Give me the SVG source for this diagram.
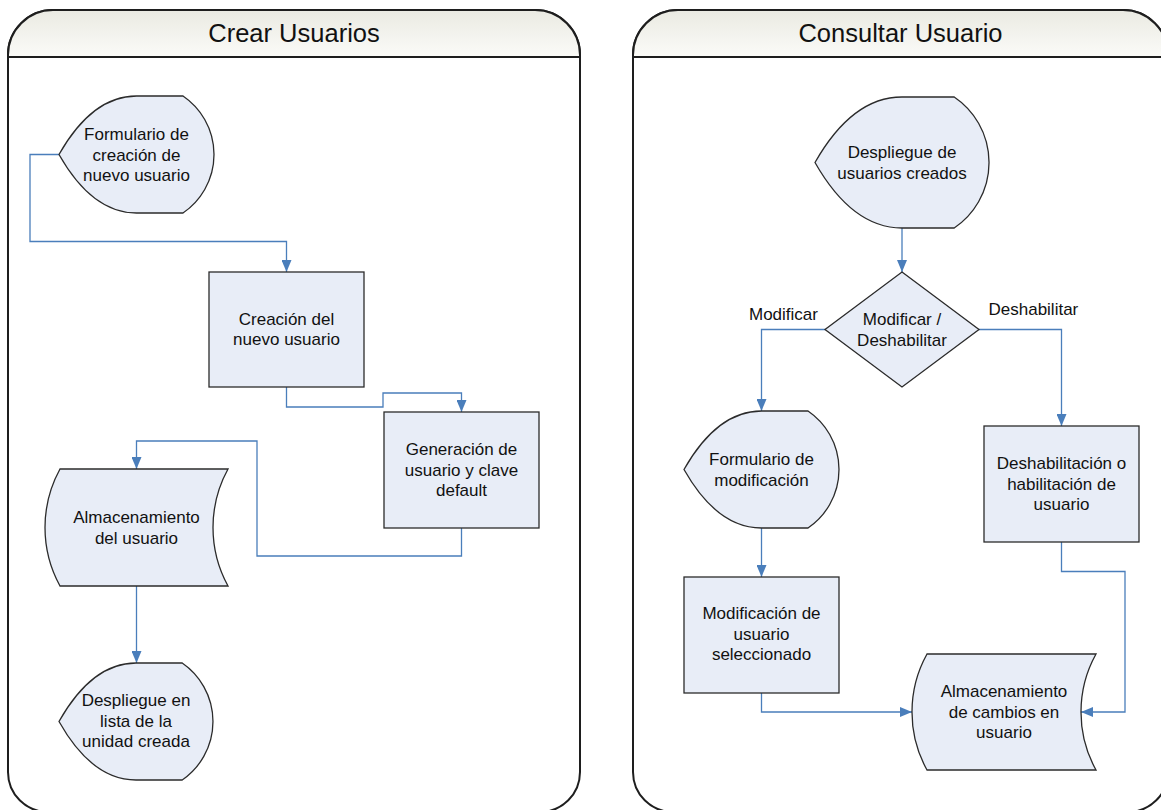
<svg xmlns="http://www.w3.org/2000/svg" width="1161" height="810" viewBox="0 0 1161 810">
<defs>
<linearGradient id="tb" x1="0" y1="0" x2="0" y2="1">
<stop offset="0" stop-color="#eaeae2"/>
<stop offset="1" stop-color="#fbfbf8"/>
</linearGradient>
<marker id="arr" viewBox="0 0 12 10" refX="12" refY="5" markerWidth="12" markerHeight="10" markerUnits="userSpaceOnUse" orient="auto">
<path d="M0,0 L12,5 L0,10 Z" fill="#4a7ebb"/>
</marker>
<style>
.panel{fill:#ffffff;stroke:#1e1e1e;stroke-width:2}
.bar{fill:url(#tb);stroke:#1e1e1e;stroke-width:2}
.title{font-family:"Liberation Sans",Arial,sans-serif;font-size:25.5px;fill:#111;text-anchor:middle}
.shape{fill:#e8edf7;stroke:#2b2b2b;stroke-width:1.3}
.t{font-family:"Liberation Sans",Arial,sans-serif;font-size:17px;fill:#111;text-anchor:middle}
.lbl{font-family:"Liberation Sans",Arial,sans-serif;font-size:17px;fill:#111}
.c{fill:none;stroke:#4a7ebb;stroke-width:1.3;marker-end:url(#arr)}
.cn{fill:none;stroke:#4a7ebb;stroke-width:1.3}
</style>
</defs>

<g id="panel-crear">
<path class="panel" d="M8,55 A45,45 0 0 1 53,10 L535,10 A45,45 0 0 1 580,55 L580,772 A40,40 0 0 1 540,812 L48,812 A40,40 0 0 1 8,772 Z"/>
<path class="bar" d="M8,57 L8,55 A45,45 0 0 1 53,10 L535,10 A45,45 0 0 1 580,55 L580,57 Z"/>
<text class="title" x="294" y="42">Crear Usuarios</text>
</g>

<g id="panel-consultar">
<path class="panel" d="M633,55 A45,45 0 0 1 678,10 L1123,10 A45,45 0 0 1 1168,55 L1168,772 A40,40 0 0 1 1128,812 L673,812 A40,40 0 0 1 633,772 Z"/>
<path class="bar" d="M633,57 L633,55 A45,45 0 0 1 678,10 L1123,10 A45,45 0 0 1 1168,55 L1168,57 Z"/>
<text class="title" x="900.5" y="42">Consultar Usuario</text>
</g>

<g id="connectors">
<path class="c" d="M59,154.5 H30 V241.5 H286.5 V272"/>
<path class="c" d="M286.5,387 V407 H383 V393 H461.5 V412"/>
<path class="c" d="M461.5,528 V556 H257 V441 H136.5 V469"/>
<path class="c" d="M136.5,586 V663"/>
<path class="c" d="M902,228 V272"/>
<path class="c" d="M825,329.5 H761.5 V411"/>
<path class="c" d="M979,329.5 H1061.5 V426"/>
<path class="c" d="M761.5,528 V577"/>
<path class="c" d="M761.5,693 V712 H912"/>
<path class="c" d="M1061.5,542 V571.5 H1125 V712 H1081"/>
<text class="lbl" x="749" y="320">Modificar</text>
<text class="lbl" x="988.5" y="315">Deshabilitar</text>
</g>

<g id="n-formulario-creacion">
<path class="shape" d="M59,154.5 C77.6,121.7 102.4,96 136.5,96 L183,96 A70.7,70.7 0 0 1 183,213 L136.5,213 C102.4,213 77.6,187.3 59,154.5Z"/>
<text class="t" x="136.5" y="140">Formulario de</text>
<text class="t" x="136.5" y="160.5">creación de</text>
<text class="t" x="136.5" y="181">nuevo usuario</text>
</g>

<g id="n-creacion">
<rect class="shape" x="209" y="272" width="155" height="115"/>
<text class="t" x="286.5" y="324.5">Creación del</text>
<text class="t" x="286.5" y="345">nuevo usuario</text>
</g>

<g id="n-generacion">
<rect class="shape" x="384" y="412" width="155" height="116"/>
<text class="t" x="461.5" y="455">Generación de</text>
<text class="t" x="461.5" y="475.5">usuario y clave</text>
<text class="t" x="461.5" y="496">default</text>
</g>

<g id="n-almacenamiento">
<path class="shape" d="M60,469 L228,469 A121.6,121.6 0 0 0 228,586 L60,586 A121.6,121.6 0 0 1 60,469Z"/>
<text class="t" x="136.5" y="523">Almacenamiento</text>
<text class="t" x="136.5" y="543.5">del usuario</text>
</g>

<g id="n-despliegue-lista">
<path class="shape" d="M59,721.5 C77.5,688.7 102.1,663 136,663 L182.2,663 A71,71 0 0 1 182.2,780 L136,780 C102.1,780 77.5,754.3 59,721.5Z"/>
<text class="t" x="136" y="706">Despliegue en</text>
<text class="t" x="136" y="726.5">lista de la</text>
<text class="t" x="136" y="747">unidad creada</text>
</g>

<g id="n-despliegue-usuarios">
<path class="shape" d="M815,162.5 C835.9,125.8 863.7,97 902,97 L954.2,97 A79,79 0 0 1 954.2,228 L902,228 C863.7,228 835.9,199.2 815,162.5Z"/>
<text class="t" x="902" y="158">Despliegue de</text>
<text class="t" x="902" y="178.5">usuarios creados</text>
</g>

<g id="n-decision">
<path class="shape" d="M902,272 L979,329.5 L902,387 L825,329.5Z"/>
<text class="t" x="902" y="325">Modificar /</text>
<text class="t" x="902" y="345.5">Deshabilitar</text>
</g>

<g id="n-formulario-modificacion">
<path class="shape" d="M684,469.5 C702.6,436.7 727.4,411 761.5,411 L808,411 A70.7,70.7 0 0 1 808,528 L761.5,528 C727.4,528 702.6,502.3 684,469.5Z"/>
<text class="t" x="761.5" y="465">Formulario de</text>
<text class="t" x="761.5" y="485.5">modificación</text>
</g>

<g id="n-deshabilitacion">
<rect class="shape" x="984" y="426" width="155" height="116"/>
<text class="t" x="1061.5" y="469">Deshabilitación o</text>
<text class="t" x="1061.5" y="489.5">habilitación de</text>
<text class="t" x="1061.5" y="510">usuario</text>
</g>

<g id="n-modificacion">
<rect class="shape" x="684" y="577" width="155" height="116"/>
<text class="t" x="761.5" y="619">Modificación de</text>
<text class="t" x="761.5" y="639.5">usuario</text>
<text class="t" x="761.5" y="660">seleccionado</text>
</g>

<g id="n-almacenamiento-cambios">
<path class="shape" d="M927,654 L1096,654 A119.6,119.6 0 0 0 1096,770 L927,770 A119.6,119.6 0 0 1 927,654Z"/>
<text class="t" x="1004" y="697">Almacenamiento</text>
<text class="t" x="1004" y="717.5">de cambios en</text>
<text class="t" x="1004" y="738">usuario</text>
</g>
</svg>
